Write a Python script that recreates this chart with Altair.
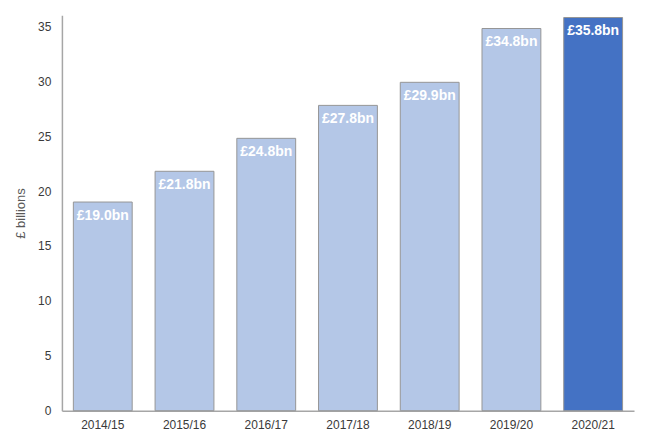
import altair as alt
import pandas as pd

years = ["2014/15", "2015/16", "2016/17", "2017/18", "2018/19", "2019/20", "2020/21"]
values = [19.0, 21.8, 24.8, 27.8, 29.9, 34.8, 35.8]
labels = ["£19.0bn", "£21.8bn", "£24.8bn", "£27.8bn", "£29.9bn", "£34.8bn", "£35.8bn"]
highlight = [False, False, False, False, False, False, True]

df = pd.DataFrame({"year": years, "value": values, "label": labels, "hl": highlight})

x = alt.X("year:N", sort=years, title=None,
          scale=alt.Scale(paddingInner=0.28, paddingOuter=0.14),
          axis=alt.Axis(labelAngle=0, labelFont="Liberation Sans", labelFontSize=12,
                        labelColor="#3a3a3a", labelPadding=9, ticks=False,
                        domainColor="#a6a6a6", domainWidth=1.5))
y = alt.Y("value:Q", title="£ billions",
          scale=alt.Scale(domain=[0, 36], nice=False),
          axis=alt.Axis(values=[0, 5, 10, 15, 20, 25, 30, 35], grid=False, ticks=False,
                        labelFont="Liberation Sans", labelFontSize=12, labelColor="#3a3a3a",
                        labelPadding=11, domainColor="#a6a6a6", domainWidth=1.5,
                        titleFont="Liberation Sans", titleFontSize=13, titleFontWeight="normal",
                        titleColor="#595959", titlePadding=10))

bars = alt.Chart(df).mark_bar(stroke="#969696", strokeWidth=1).encode(
    x=x, y=y,
    color=alt.Color("hl:N", scale=alt.Scale(domain=[False, True], range=["#b4c7e7", "#4472c4"]),
                    legend=None),
)

text = alt.Chart(df).mark_text(baseline="middle", dy=14, color="white", fontWeight="bold",
                               fontSize=14, font="Liberation Sans").encode(
    x=alt.X("year:N", sort=years), y=alt.Y("value:Q"), text="label:N")

chart = (bars + text).properties(
    width=573, height=396,
    autosize=alt.AutoSizeParams(type="none"),
    padding={"left": 54, "top": 7, "right": 10, "bottom": 30},
).configure_view(stroke=None)

chart.save("out.html", embed_options={"renderer": "svg", "actions": False})
